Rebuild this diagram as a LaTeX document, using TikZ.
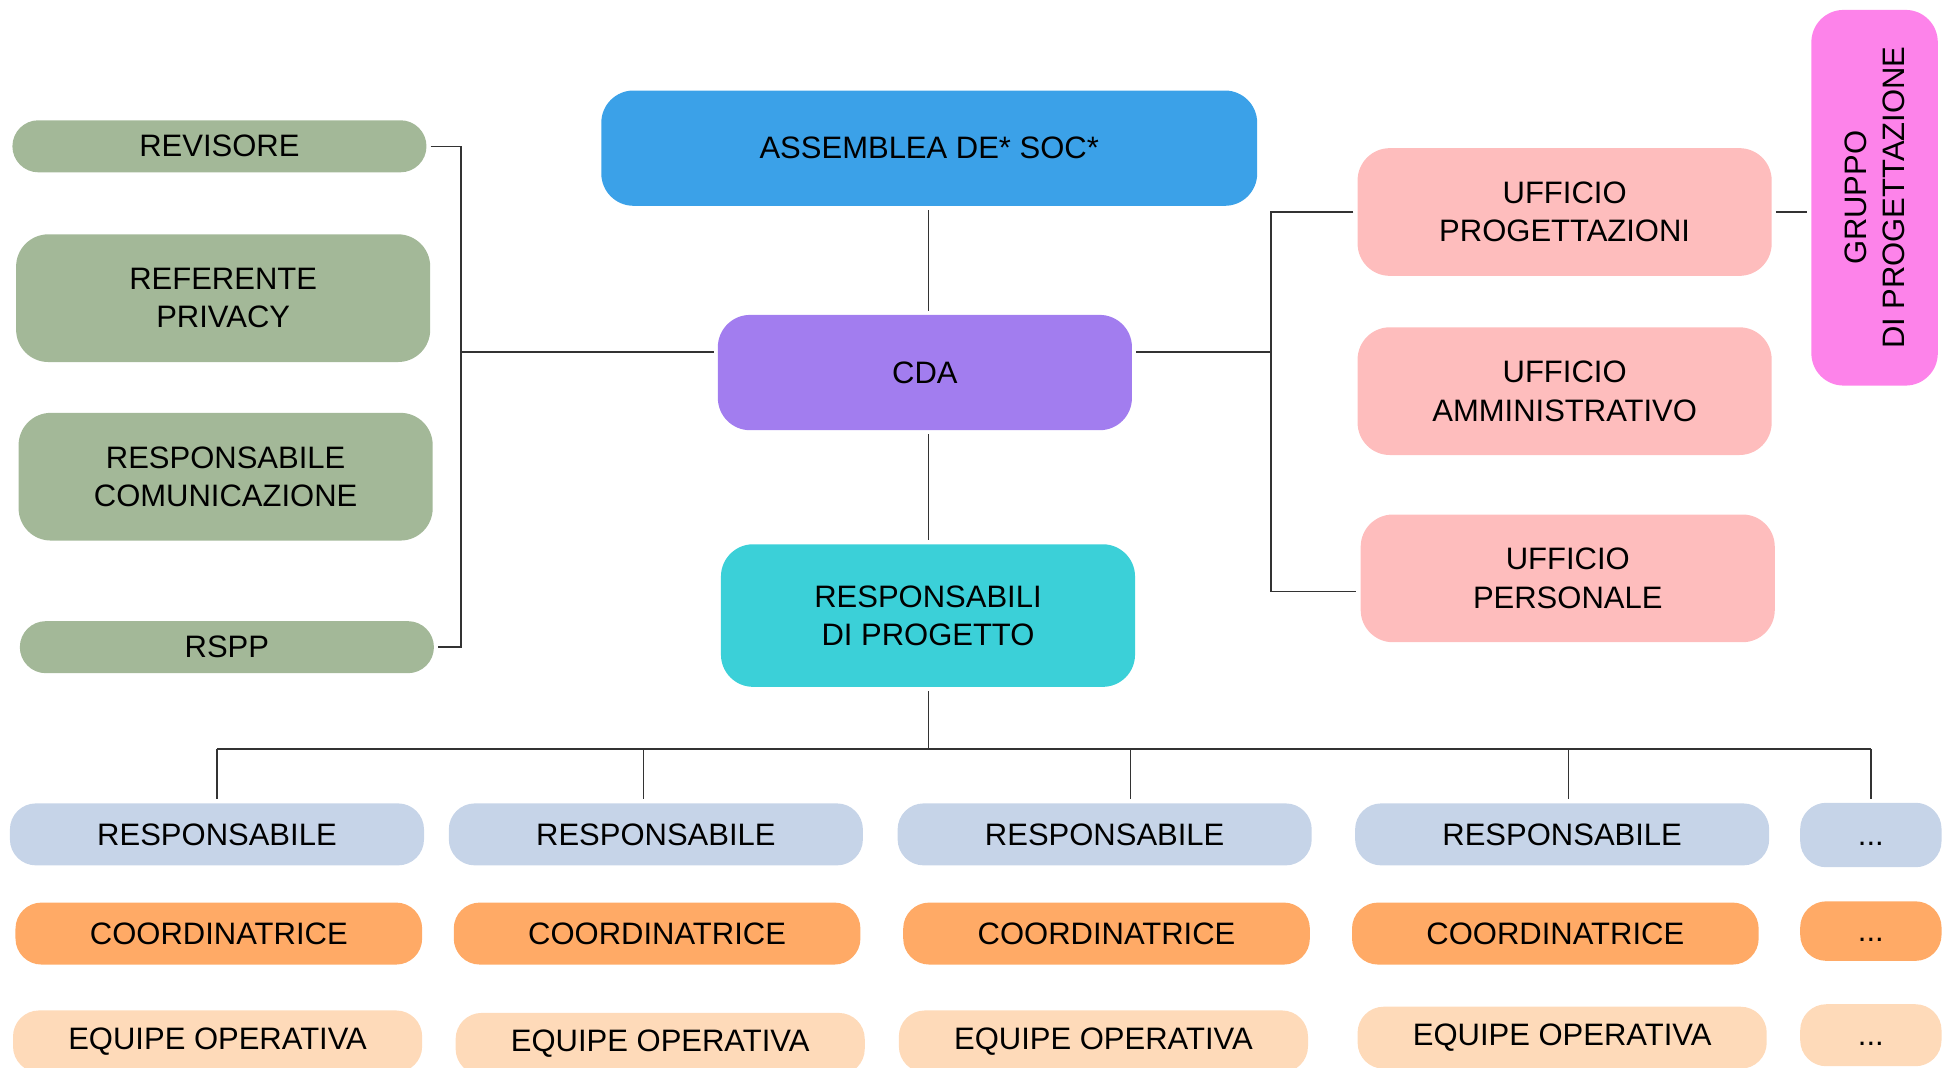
\documentclass[tikz,border=0pt]{standalone}
\usepackage{fontspec}
\setmainfont{Liberation Sans}
\usepackage{tikz}

\definecolor{staffgreen}{HTML}{A3B898}
\definecolor{assblue}{HTML}{3BA1E8}
\definecolor{cdapurple}{HTML}{A27DEF}
\definecolor{respcyan}{HTML}{3BD0D8}
\definecolor{officepink}{HTML}{FEBDBD}
\definecolor{groupmagenta}{HTML}{FD83EA}
\definecolor{leadblue}{HTML}{C6D4E8}
\definecolor{coordorange}{HTML}{FFAA66}
\definecolor{equipepeach}{HTML}{FEDAB9}

\begin{document}
\begin{tikzpicture}[x=0.5pt,y=0.5pt,
		box/.style={rounded corners=13pt, inner sep=0pt, align=center, minimum width=167pt,
			font=\fontsize{12.5}{15.5}\selectfont},
		pill/.style={box, rounded corners=10.5pt},
		link/.style={draw=black!80, line width=0.6pt, shorten <=1.5pt, shorten >=1.5pt}]
		\useasboundingbox (0,0) rectangle (1568,-861);

		% centre column
		\node[box, fill=assblue, minimum width=264.5pt, minimum height=46.5pt] (ass) at (749.5,-119.5) {ASSEMBLEA DE* SOC*};
		\node[box, fill=cdapurple, minimum height=46.5pt] (cda) at (746,-300.5) {CDA};
		\node[box, fill=respcyan, minimum height=57.5pt] (resp) at (748.5,-496.5) {RESPONSABILI\\DI PROGETTO};

		% staff on the left
		\node[pill, fill=staffgreen, minimum height=21pt] (revisore) at (177,-118) {REVISORE};
		\node[box, fill=staffgreen, minimum height=51.5pt] (privacy) at (180,-240.5) {REFERENTE\\PRIVACY};
		\node[box, fill=staffgreen, minimum height=51.5pt] (comm) at (182,-384.5) {RESPONSABILE\\COMUNICAZIONE};
		\node[pill, fill=staffgreen, minimum height=21pt] (rspp) at (183,-522) {RSPP};

		% offices on the right
		\node[box, fill=officepink, minimum height=51.5pt] (uprog) at (1262,-171) {UFFICIO\\PROGETTAZIONI};
		\node[box, fill=officepink, minimum height=51.5pt] (uamm) at (1262,-315.5) {UFFICIO\\AMMINISTRATIVO};
		\node[box, fill=officepink, minimum height=51.5pt] (upers) at (1264.5,-466.5) {UFFICIO\\PERSONALE};
		\node[box, fill=groupmagenta, rotate=90, minimum width=151.5pt, minimum height=51pt] (gruppo) at (1512,-159.5) {GRUPPO\\DI PROGETTAZIONE};

		% project teams
		\foreach \i/\xr/\xc/\xe/\ye in {1/175/176.5/175.5/-840, 2/529/530/532.5/-842, 3/891/892.5/890/-840, 4/1260/1254.5/1260/-837}{
			\node[pill, fill=leadblue, minimum height=25pt] (lead-\i) at (\xr,-673) {RESPONSABILE};
			\node[pill, fill=coordorange, minimum width=164pt, minimum height=25pt] (coord-\i) at (\xc,-753) {COORDINATRICE};
			\node[pill, fill=equipepeach, minimum width=165pt, minimum height=25pt] (equipe-\i) at (\xe,\ye) {EQUIPE OPERATIVA};
		}
		\node[pill, fill=leadblue, minimum width=57pt, minimum height=26pt] (lead-5) at (1509,-673.5) {\vphantom{R}...};
		\node[pill, fill=coordorange, minimum width=57pt, minimum height=24pt] (coord-5) at (1509,-751) {\vphantom{R}...};
		\node[pill, fill=equipepeach, minimum width=57pt, minimum height=25pt] (equipe-5) at (1509,-835) {\vphantom{R}...};

		% connectors
		\coordinate (lbus) at (372,-284);
		\coordinate (rbus) at (1025,-284);
		\coordinate (bus) at (749,-604);
		\draw[link] (bus |- ass.south) -- (bus |- cda.north);
		\draw[link] (bus |- cda.south) -- (bus |- resp.north);
		\draw[link] (revisore.east) -| (lbus) |- (rspp.east);
		\draw[link, shorten <=0pt] (lbus) -- (lbus -| cda.west);
		\draw[link, shorten >=0pt] (rbus -| cda.east) -- (rbus);
		\draw[link] (uprog.west) -| (rbus) |- ([yshift=-5.25pt]upers.west);
		\draw[link] (uprog.east) -- (uprog.east -| gruppo.north);
		\draw[link, shorten >=0pt] (bus |- resp.south) -- (bus);
		\draw[link, shorten <=0pt, shorten >=0pt] (lead-1.north |- bus) -- (lead-5.north |- bus);
		\foreach \i/\dx in {1/0, 2/-5, 3/10.5, 4/2.5, 5/0}{
			\draw[link, shorten <=0pt] ([xshift=\dx pt]lead-\i.north |- bus) -- ([xshift=\dx pt]lead-\i.north);
		}
	\end{tikzpicture}
\end{document}
